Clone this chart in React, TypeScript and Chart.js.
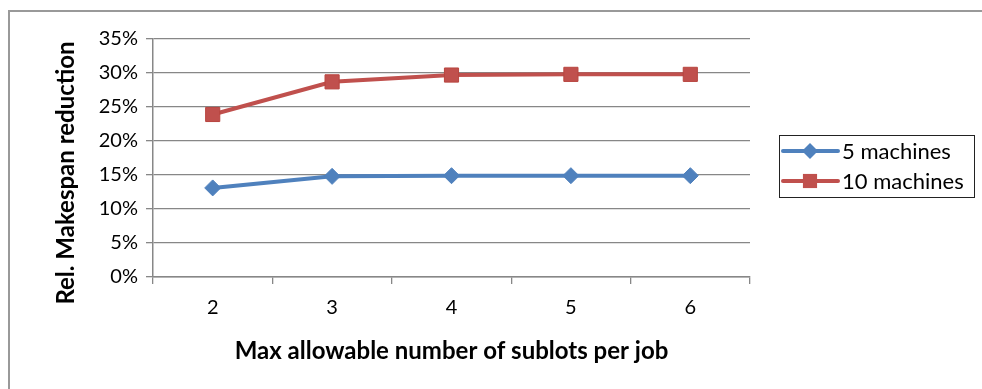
import React, { useEffect, useRef } from "react";
import { Chart, registerables } from "chart.js";
Chart.register(...registerables);

const categories = ["2", "3", "4", "5", "6"];
const fiveMachines = [13.1, 14.8, 14.9, 14.9, 14.9];
const tenMachines = [23.9, 28.7, 29.7, 29.8, 29.8];
const seriesNames = ["5 machines", "10 machines"];
const yMin = 0;
const yMax = 35;
const yStep = 5;
const xTitle = "Max allowable number of sublots per job";
const yTitle = "Rel. Makespan reduction";

const FONT = "Lato, 'Open Sans', sans-serif";
const BLUE = "#4F81BD";
const RED = "#C0504D";
const GRID = "#878787";

const boxLegend = {
  id: "boxLegend",
  afterDraw(chart: any) {
    const ctx = chart.ctx as CanvasRenderingContext2D;
    // y-axis title (rotated, real text)
    ctx.save();
    ctx.translate(66, 173);
    ctx.rotate(-Math.PI / 2);
    ctx.fillStyle = "#000";
    ctx.font = `bold 24px ${FONT}`;
    ctx.textAlign = "center";
    ctx.textBaseline = "middle";
    ctx.fillText(yTitle, 0, 0);
    ctx.restore();

    const x0 = 779, y0 = 135, w = 195, h = 62;
    ctx.save();
    ctx.strokeStyle = "#222";
    ctx.lineWidth = 1;
    ctx.strokeRect(x0 + 0.5, y0 + 0.5, w, h);
    chart.data.datasets.forEach((ds: any, i: number) => {
      const cy = y0 + 16 + i * 30;
      ctx.strokeStyle = ds.borderColor;
      ctx.lineWidth = 4;
      ctx.lineCap = "round";
      ctx.beginPath();
      ctx.moveTo(783, cy);
      ctx.lineTo(838, cy);
      ctx.stroke();
      const mx = 810;
      ctx.fillStyle = ds.pointBackgroundColor;
      ctx.beginPath();
      if (ds.pointStyle === "rectRot") {
        const r = ds.pointRadius;
        ctx.moveTo(mx, cy - r);
        ctx.lineTo(mx + r, cy);
        ctx.lineTo(mx, cy + r);
        ctx.lineTo(mx - r, cy);
        ctx.closePath();
      } else {
        const s = Math.SQRT1_2 * ds.pointRadius;
        ctx.rect(mx - s, cy - s, 2 * s, 2 * s);
      }
      ctx.fill();
      ctx.fillStyle = "#000";
      ctx.font = `22px ${FONT}`;
      ctx.textBaseline = "middle";
      ctx.textAlign = "left";
      ctx.fillText(ds.label, 842, cy + 1);
    });
    ctx.restore();
  },
};

export default function App() {
  const ref = useRef<HTMLCanvasElement>(null);
  useEffect(() => {
    if (!ref.current) return;
    const chart = new Chart(ref.current, {
      type: "line",
      data: {
        labels: categories,
        datasets: [
          {
            label: seriesNames[0],
            data: fiveMachines,
            borderColor: BLUE,
            backgroundColor: BLUE,
            pointBackgroundColor: BLUE,
            pointBorderColor: BLUE,
            pointStyle: "rectRot",
            pointRadius: 8,
            pointBorderWidth: 1,
            borderWidth: 4,
            tension: 0,
          },
          {
            label: seriesNames[1],
            data: tenMachines,
            borderColor: RED,
            backgroundColor: RED,
            pointBackgroundColor: RED,
            pointBorderColor: "#B8453F",
            pointStyle: "rect",
            pointRadius: 10,
            pointBorderWidth: 1,
            borderWidth: 4,
            tension: 0,
          },
        ],
      },
      options: {
        animation: false,
        responsive: false,
        maintainAspectRatio: false,
        layout: { padding: { left: 0, right: 232, top: 39, bottom: 23 } },
        plugins: { legend: { display: false }, tooltip: { enabled: false } },
        scales: {
          x: {
            offset: true,
            grid: {
              offset: true,
              drawOnChartArea: false,
              drawTicks: true,
              tickLength: 7,
              color: GRID,
              lineWidth: 1.3,
            },
            border: { color: GRID, width: 1.5 },
            ticks: { color: "#000", font: { family: FONT, size: 20 }, padding: 12, maxRotation: 0 },
            title: {
              display: true,
              text: xTitle,
              color: "#000",
              font: { family: FONT, size: 24, weight: "bold", lineHeight: 1.2 },
              padding: 0,
            },
            afterFit(scale: any) {
              scale.height = 89;
            },
          },
          y: {
            min: yMin,
            max: yMax,
            ticks: {
              stepSize: yStep,
              color: "#000",
              font: { family: FONT, size: 20 },
              padding: 8,
              callback: (v: any) => `${v}%`,
            },
            grid: { color: GRID, lineWidth: 1.3, tickLength: 7 },
            border: { color: GRID, width: 1.5 },
            title: { display: false, text: yTitle },
            afterFit(scale: any) {
              scale.width = 153;
            },
          },
        },
      },
      plugins: [boxLegend],
    });
    return () => chart.destroy();
  }, []);
  return (
    <div style={{ position: "fixed", left: 0, top: 0, width: 982, height: 389, background: "#fff" }}>
      <div
        style={{
          position: "absolute",
          left: 8,
          top: 10,
          width: 990,
          height: 400,
          borderLeft: "2px solid #999",
          borderTop: "2px solid #999",
        }}
      />
      <canvas ref={ref} width={982} height={389} style={{ position: "absolute", left: 0, top: 0 }} />
    </div>
  );
}
